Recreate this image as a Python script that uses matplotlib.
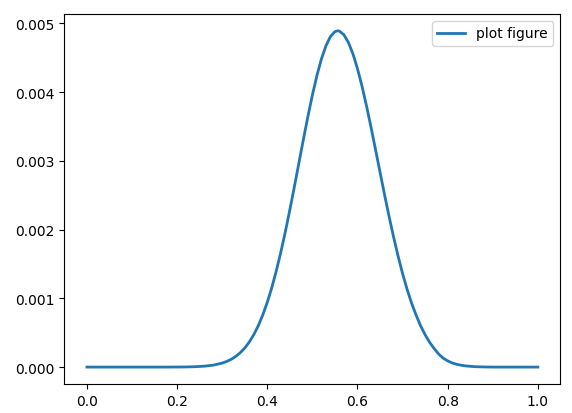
import matplotlib
matplotlib.use("Agg")
import matplotlib.pyplot as plt

# x positions and curve heights
x_vals = [0.00, 0.02, 0.04, 0.06, 0.08, 0.10, 0.12, 0.14, 0.16, 0.18,
          0.20, 0.22, 0.24, 0.26, 0.28, 0.30, 0.31, 0.32, 0.33, 0.34,
          0.35, 0.36, 0.37, 0.38, 0.39, 0.40, 0.41, 0.42, 0.43, 0.44,
          0.45, 0.46, 0.47, 0.48, 0.49, 0.50, 0.51, 0.52, 0.53, 0.54,
          0.55, 0.556, 0.56, 0.57, 0.58, 0.59, 0.60, 0.61, 0.62, 0.63,
          0.64, 0.65, 0.66, 0.67, 0.68, 0.69, 0.70, 0.71, 0.72, 0.73,
          0.74, 0.75, 0.76, 0.77, 0.78, 0.79, 0.80, 0.81, 0.82, 0.83,
          0.84, 0.86, 0.88, 0.90, 0.92, 0.94, 0.96, 0.98, 1.00]
y_vals = [0.0, 0.0, 0.0, 0.0, 0.0, 0.0, 0.0, 0.0, 0.0, 0.0,
          0.000001, 0.000002, 0.0000055, 0.000013, 0.000028, 0.000058, 0.000082, 0.000113, 0.000155, 0.000209,
          0.000277, 0.000364, 0.000471, 0.000602, 0.000759, 0.000944, 0.001157, 0.001401, 0.001672, 0.001968,
          0.002288, 0.002622, 0.002966, 0.003309, 0.003643, 0.003956, 0.004238, 0.004480, 0.004671, 0.004806,
          0.004878, 0.004890, 0.004885, 0.004831, 0.004719, 0.004553, 0.004339, 0.004085, 0.003798, 0.003488,
          0.003163, 0.002834, 0.002508, 0.002192, 0.001893, 0.001615, 0.001359, 0.001131, 0.000930, 0.000755,
          0.000600, 0.000470, 0.000360, 0.000270, 0.000190, 0.000130, 0.000090, 0.000060, 0.000040, 0.000027,
          0.000017, 0.000006, 0.000002, 0.0, 0.0, 0.0, 0.0, 0.0, 0.0]

fig = plt.figure(figsize=(5.72, 4.14), dpi=100)
ax = fig.add_axes([0.1126, 0.0703, 0.8671, 0.8935])
ax.plot(x_vals, y_vals, color="#1f77b4", linewidth=2, label="plot figure")
ax.legend(loc="upper right")

plt.savefig("out.png", dpi=100)
